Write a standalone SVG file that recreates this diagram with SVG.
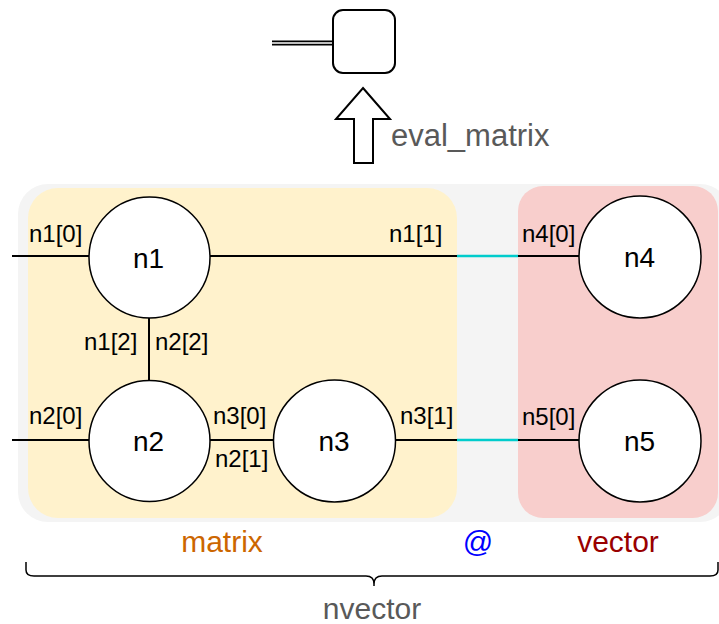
<svg xmlns="http://www.w3.org/2000/svg" width="719" height="624" viewBox="0 0 719 624">
<style>
text{font-family:"Liberation Sans",Arial,sans-serif}
.node circle{fill:#fff;stroke:#000;stroke-width:1.5}
.node text{font-size:28px;text-anchor:middle;fill:#000}
.lbl{font-size:24px;fill:#000}
.edge{stroke:#000;stroke-width:2;fill:none}
.cy{stroke:#00cccc;stroke-width:2.5;fill:none}
.cap{font-size:30px;text-anchor:middle}
</style>
<rect width="719" height="624" fill="#fff"/>
<g id="groups">
<rect x="18" y="184" width="712" height="338" rx="30" fill="#f4f4f4"/>
<rect id="matrix-box" x="28" y="188" width="429" height="330" rx="30" fill="#fff2cc"/>
<rect id="vector-box" x="518" y="186" width="200" height="332" rx="25" fill="#f8cecc"/>
</g>
<g id="connectors">
<line class="edge" x1="12" y1="256" x2="89" y2="256"/>
<line class="edge" x1="210" y1="256" x2="457" y2="256"/>
<line class="cy" x1="457" y1="256" x2="518" y2="256"/>
<line class="edge" x1="518" y1="256" x2="579" y2="256"/>
<line class="edge" x1="149" y1="318" x2="149" y2="380"/>
<line class="edge" x1="12" y1="440" x2="89" y2="440"/>
<line class="edge" x1="210" y1="440" x2="273" y2="440"/>
<line class="edge" x1="396" y1="440" x2="457" y2="440"/>
<line class="cy" x1="457" y1="440" x2="518" y2="440"/>
<line class="edge" x1="518" y1="440" x2="579" y2="440"/>
<line x1="272" y1="43" x2="333" y2="43" stroke="#000" stroke-width="5"/>
<line x1="272" y1="43" x2="333" y2="43" stroke="#fff" stroke-width="1.5"/>
</g>
<g id="labels">
<text class="lbl" x="29" y="242">n1[0]</text>
<text class="lbl" x="389" y="242">n1[1]</text>
<text class="lbl" x="522" y="242">n4[0]</text>
<text class="lbl" x="84" y="350">n1[2]</text>
<text class="lbl" x="155" y="350">n2[2]</text>
<text class="lbl" x="29" y="424">n2[0]</text>
<text class="lbl" x="213" y="424">n3[0]</text>
<text class="lbl" x="215" y="467">n2[1]</text>
<text class="lbl" x="400" y="424">n3[1]</text>
<text class="lbl" x="522" y="425">n5[0]</text>
</g>
<g id="n1" class="node"><circle cx="149.5" cy="257.5" r="60.5"/><text x="148.5" y="268">n1</text></g>
<g id="n2" class="node"><circle cx="149.5" cy="441" r="60.5"/><text x="148.5" y="451">n2</text></g>
<g id="n3" class="node"><circle cx="334.5" cy="441" r="61"/><text x="334" y="451">n3</text></g>
<g id="n4" class="node"><circle cx="640" cy="257" r="61"/><text x="639.5" y="267">n4</text></g>
<g id="n5" class="node"><circle cx="640" cy="441" r="61"/><text x="639.5" y="451">n5</text></g>
<g id="result">
<rect x="333" y="10" width="62" height="63" rx="10" fill="#fff" stroke="#000" stroke-width="2"/>
</g>
<g id="eval-arrow">
<polygon points="363,88 390,119 373,119 373,163 354,163 354,119 336,119" fill="#fff" stroke="#000" stroke-width="2" stroke-linejoin="miter"/>
<text x="391" y="146" font-size="31" fill="#595959">eval_matrix</text>
</g>
<g id="captions">
<text class="cap" x="222" y="552" fill="#cc6600">matrix</text>
<text class="cap" x="478" y="552" fill="#0000ff">@</text>
<text class="cap" x="618" y="552" fill="#990000">vector</text>
<path d="M26,562 L26,570 Q26,576 34,576 L366,576 Q374,576 374,584 L374,586 M374,584 Q374,576 382,576 L710,576 Q718,576 718,570 L718,562" fill="none" stroke="#000" stroke-width="1.5"/>
<text class="cap" x="372" y="619" fill="#595959">nvector</text>
</g>
</svg>
